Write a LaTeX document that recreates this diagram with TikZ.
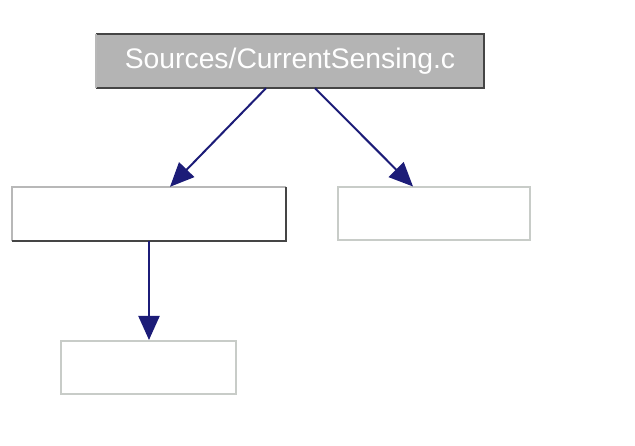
\documentclass[tikz,border=0pt]{standalone}
\usepackage{fontspec}
\setmainfont{Liberation Sans}
\usetikzlibrary{arrows.meta,calc}
\definecolor{navy}{HTML}{1C1C78}
\definecolor{boxgray}{HTML}{B4B4B4}
\definecolor{darkedge}{HTML}{454545}
\definecolor{lightedge}{HTML}{B8B8B8}
\definecolor{paleedge}{HTML}{C8CCC8}
\tikzset{
  conn/.style={draw=navy, line width=2pt, -{Triangle[length=24pt,width=21pt]}},
  plainbox/.style={draw=paleedge, line width=2pt, fill=white, minimum height=53pt, inner sep=0pt},
}
\begin{document}
\begin{tikzpicture}[x=1pt,y=-1pt]
\useasboundingbox[fill=white] (0,0) rectangle (635,446);
% top box
\node[fill=boxgray, minimum width=388pt, minimum height=54pt, inner sep=0pt,
      text=white, font=\fontsize{28.3}{29}\selectfont] (top) at (290,61) {Sources/CurrentSensing.c};
\draw[darkedge, line width=2pt] (top.north west) -- (top.north east) -- (top.south east) -- (top.south west);
\draw[lightedge, line width=2pt] (top.south west) -- (top.north west);
% left box
\node[fill=white, minimum width=274pt, minimum height=54pt, inner sep=0pt] (left) at (149,214) {};
\draw[lightedge, line width=2pt] (left.south west) -- (left.north west) -- (left.north east);
\draw[darkedge, line width=2.5pt] (left.north east) -- (left.south east) -- (left.south west);
% right box
\node[plainbox, minimum width=192pt] (right) at (434,214) {};
% bottom box
\node[plainbox, minimum width=175pt] (bottom) at (148.5,367.5) {};
% connectors
\draw[conn] ([xshift=-24pt]top.south) -- ([xshift=21pt]left.north);
\draw[conn] ([xshift=25pt]top.south) -- ([xshift=-21pt]right.north);
\draw[conn] (left.south) -- (left.south |- bottom.north);
\end{tikzpicture}
\end{document}
